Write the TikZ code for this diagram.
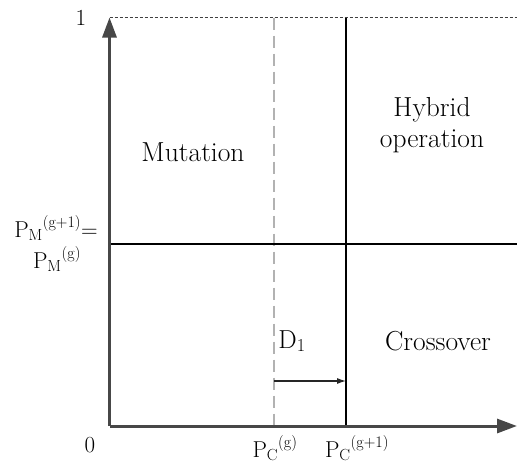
\documentclass[tikz,border=0pt]{standalone}
\usepackage{fontspec}
\usepackage{tikz}
\usetikzlibrary{arrows.meta,positioning}

\begin{document}
\begin{tikzpicture}[
        x=1pt, y=-1pt,
        axis/.style={
            -{Triangle[length=20pt,width=14pt]},
            line width=3pt,
            draw=black!72
        },
        limit/.style={
            dash pattern=on 3pt off 2pt,
            line width=1.7pt,
            draw=black!75
        },
        split/.style={
            line width=1.5pt,
            draw=black
        },
        oldsplit/.style={
            dash pattern=on 12pt off 6pt,
            line width=1.7pt,
            draw=black!30
        },
        gap/.style={
            -{Latex[length=9pt,width=6pt]},
            line width=1.1pt,
            draw=black!85
        },
        lbl/.style={
            font=\fontsize{23}{28}\selectfont,
            inner sep=0pt
        },
        region/.style={
            lbl,
            align=center,
            font=\fontsize{27.5}{31}\selectfont
        }
    ]
        \useasboundingbox (0,0) rectangle (517,463);

        % corners and break points
        \coordinate (origin) at (109.5,426);
        \coordinate (ytop) at (109.5,17.5);
        \coordinate (xend) at (517,426);
        \coordinate (corner) at (517,17.5);
        \coordinate (pcg top) at (274,17.5);
        \coordinate (pcg bot) at (274,426);
        \coordinate (pcn top) at (346,17.5);
        \coordinate (pcn bot) at (346,426);
        \coordinate (pm left) at (109.5,244);
        \coordinate (pm right) at (517,244);
        \coordinate (d from) at (274,381);
        \coordinate (d to) at (346,381);

        \draw[limit] (ytop) -- (corner);
        \draw[oldsplit] (pcg top) -- (pcg bot);
        \draw[split] (pcn top) -- (pcn bot);
        \draw[split] (pm left) -- (pm right);
        \draw[gap] (d from) -- (d to);
        \draw[axis] (origin) -- (ytop);
        \draw[axis] (origin) -- (xend);

        % ticks and axis labels
        \node[lbl] (one y) at (81,18) {1};
        \node[lbl] (zero) at (90,445) {0};
        \node[lbl] (one x) at (521,450) {1};
        \node[lbl, anchor=base] (pm new) at (56,237) {P\textsubscript{M}\textsuperscript{(g+1)}=};
        \node[lbl, anchor=base] (pm old) at (57,268) {P\textsubscript{M}\textsuperscript{(g)}};
        \node[lbl, anchor=base] (pc old) at (275,457) {P\textsubscript{C}\textsuperscript{(g)}};
        \node[lbl, anchor=base] (pc new) at (357,457) {P\textsubscript{C}\textsuperscript{(g+1)}};

        % regions
        \node[region] (mutation) at (193,152) {Mutation};
        \node[region] (hybrid) at (432,125) {Hybrid\\operation};
        \node[region] (crossover) at (438,341) {Crossover};
        \node[lbl, font=\fontsize{26}{30}\selectfont] (dist) at (292,341) {D\textsubscript{1}};
    \end{tikzpicture}
\end{document}
